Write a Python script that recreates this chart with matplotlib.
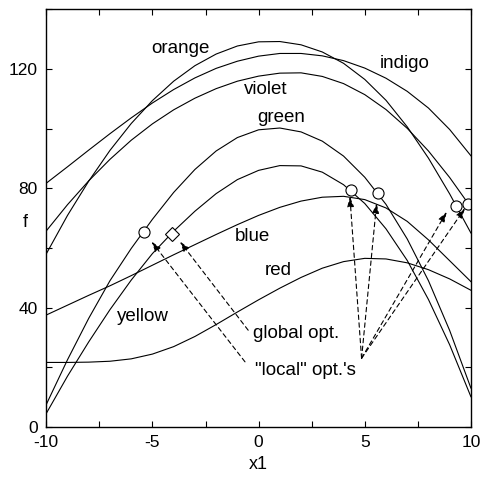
import matplotlib
matplotlib.use("Agg")
import matplotlib.pyplot as plt

plt.rcParams['font.family'] = ['Liberation Sans', 'DejaVu Sans']
plt.rcParams['axes.unicode_minus'] = False

# values, one per integer x1
x1 = list(range(-10, 11))
orange = [58.0, 70.9, 82.4, 92.7, 101.7, 109.4, 115.9, 121.1, 125.0, 127.7, 129.1,
          129.2, 128.1, 125.7, 121.9, 116.5, 109.5, 100.6, 90.1, 78.1, 65.0]
indigo = [81.7, 87.2, 92.8, 98.3, 103.6, 108.6, 113.1, 117.0, 120.2, 122.6, 124.3,
          125.2, 125.2, 124.4, 122.8, 120.3, 116.9, 112.5, 106.9, 99.7, 90.9]
violet = [65.7, 74.5, 82.5, 89.7, 96.1, 101.6, 106.3, 110.2, 113.4, 115.9, 117.6,
          118.6, 118.7, 117.5, 115.1, 111.4, 106.4, 100.1, 92.5, 83.6, 73.6]
green = [7.5, 22.5, 36.4, 49.0, 59.8, 69.6, 78.6, 86.3, 92.5, 97.0, 99.6,
         100.2, 98.9, 95.8, 90.8, 83.7, 74.6, 63.0, 49.0, 32.3, 13.0]
blue = [4.5, 17.0, 28.5, 39.3, 49.2, 58.1, 65.6, 72.3, 78.2, 82.9, 86.0,
        87.6, 87.5, 85.4, 81.2, 74.9, 66.4, 55.8, 42.7, 27.5, 10.1]
red = [37.5, 40.8, 44.1, 47.3, 50.7, 54.2, 57.7, 61.1, 64.5, 67.8, 70.9,
       73.6, 75.7, 77.0, 77.3, 76.2, 73.4, 68.9, 62.7, 55.7, 48.7]
yellow = [21.6, 21.6, 21.7, 22.0, 22.8, 24.4, 26.9, 30.3, 34.3, 38.5, 42.6,
          46.5, 50.1, 53.2, 55.4, 56.5, 56.3, 55.0, 52.7, 49.6, 45.8]

# optima
local_x = [-5.39, 4.35, 5.63, 9.31, 9.86]
local_f = [65.4, 79.4, 78.5, 74.0, 74.8]
global_x = [-4.07]
global_f = [64.7]

# labels for the curves
names = ["orange", "indigo", "violet", "green", "blue", "red", "yellow"]
name_x = [-3.66, 6.89, 0.35, 1.05, -0.27, 0.91, -5.45]
name_f = [126.7, 121.9, 113.0, 103.8, 63.8, 52.3, 36.9]

# arrows: (start, tip)
global_arrow = [((-0.49, 32.4), (-3.70, 62.1))]
local_arrows = [((-0.64, 21.8), (-5.04, 62.1)),
                ((4.85, 23.0), (4.30, 77.2)),
                ((4.85, 23.0), (5.56, 75.0)),
                ((4.85, 23.0), (8.86, 72.1)),
                ((4.85, 23.0), (9.72, 73.3))]

fig = plt.figure(figsize=(4.82, 4.78), dpi=100)
ax = fig.add_axes([0.096, 0.107, 0.881, 0.8735])

for ys in [orange, indigo, violet, green, blue, red, yellow]:
    ax.plot(x1, ys, color='black', lw=0.8)

ax.plot(local_x, local_f, 'o', ms=8, mfc='white', mec='black', mew=0.8)
ax.plot(global_x, global_f, 'D', ms=7, mfc='white', mec='black', mew=0.8)

for (s, t) in global_arrow + local_arrows:
    ax.annotate('', xy=t, xytext=s,
                arrowprops=dict(arrowstyle='-|>,head_length=0.6,head_width=0.2',
                                ls=(0, (4, 3)), lw=0.8, color='black',
                                shrinkA=0, shrinkB=0, mutation_scale=10))

for n, xx, ff in zip(names, name_x, name_f):
    ax.text(xx, ff, n, fontsize=13.5, ha='center', va='center')

ax.text(-0.25, 31.4, "global opt.", fontsize=13.5, ha='left', va='center')
ax.text(-0.17, 19.0, "\"local\" opt.'s", fontsize=13.5, ha='left', va='center')

ax.set_xlim(-10, 10)
ax.set_ylim(0, 140)
ax.set_xticks([-10, -5, 0, 5, 10])
ax.set_xticks([-7.5, -2.5, 2.5, 7.5], minor=True)
ax.set_yticks([0, 40, 80, 120])
ax.set_yticks([20, 60, 100, 140], minor=True)
ax.tick_params(which='both', direction='in', top=True, right=True,
               length=4, width=0.8, labelsize=12.5, pad=6)
for sp in ax.spines.values():
    sp.set_linewidth(1.0)

ax.set_xlabel('x1', fontsize=13)
ax.set_ylabel('f', fontsize=13, rotation=0)
ax.yaxis.set_label_coords(-0.05, 0.47)

fig.savefig('out.png', dpi=100)
